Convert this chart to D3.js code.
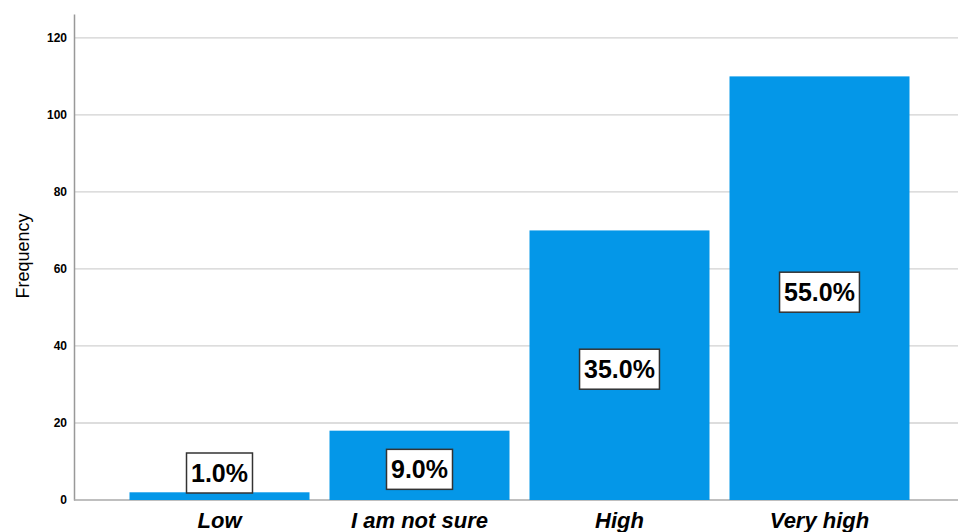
<!DOCTYPE html>
<html><head><meta charset="utf-8">
<script src="https://cdn.jsdelivr.net/npm/d3@7"></script>
<style>body{margin:0;background:#fff}svg{display:block}</style>
</head><body>
<script>
const categories = ["Low", "I am not sure", "High", "Very high"];
const frequencies = [2, 18, 70, 110];
const percentLabels = ["1.0%", "9.0%", "35.0%", "55.0%"];
const yTicks = [0, 20, 40, 60, 80, 100, 120];

const W = 958, H = 532;
const svg = d3.select("body").append("svg").attr("width", W).attr("height", H);
const x0 = 74, yBase = 500;
const y = d3.scaleLinear().domain([0, 126.2]).range([yBase, 14]);
const x = d3.scaleBand().domain(categories).range([119.5, 919.5]).paddingInner(0.1).paddingOuter(0.05);
const FONT = "Liberation Sans, Arial, sans-serif";

// gridlines
svg.append("g").selectAll("line").data(yTicks.filter(d => d > 0)).join("line")
  .attr("x1", x0).attr("x2", W).attr("y1", d => y(d)).attr("y2", d => y(d))
  .attr("stroke", "#d2d2d2").attr("stroke-width", 1.3);

// y axis
const yAxis = d3.axisLeft(y).tickValues(yTicks).tickSize(0).tickPadding(7);
const gy = svg.append("g").attr("transform", `translate(${x0},0)`).call(yAxis);
gy.select(".domain").attr("stroke", "#999").attr("stroke-width", 1.5);
gy.selectAll("text").attr("font-family", FONT)
  .attr("font-weight", "bold").attr("font-size", 12).attr("fill", "#000");

// baseline
svg.append("line").attr("x1", x0).attr("x2", W).attr("y1", yBase).attr("y2", yBase)
  .attr("stroke", "#aaa").attr("stroke-width", 1.5);

// bars
svg.append("g").selectAll("rect").data(frequencies).join("rect")
  .attr("x", (d, i) => x(categories[i])).attr("width", x.bandwidth())
  .attr("y", d => y(d)).attr("height", d => yBase - y(d))
  .attr("fill", "#0497e8");

// percentage labels
const lg = svg.append("g").selectAll("g").data(frequencies).join("g")
  .attr("transform", (d, i) => {
    const cx = x(categories[i]) + x.bandwidth() / 2;
    const cy = Math.min((y(d) + yBase) / 2 + 4, 473);
    return `translate(${cx},${cy})`;
  });
const boxes = lg.append("rect").attr("y", -20).attr("height", 40)
  .attr("fill", "#fff").attr("stroke", "#333").attr("stroke-width", 1.5);
const texts = lg.append("text").text((d, i) => percentLabels[i])
  .attr("text-anchor", "middle").attr("dy", "0.36em")
  .attr("font-family", FONT)
  .attr("font-weight", "bold").attr("font-size", 25).attr("fill", "#000");
texts.each(function(d, i) {
  const w = this.getComputedTextLength() + 9;
  d3.select(boxes.nodes()[i]).attr("x", -w / 2).attr("width", w);
});

// x category labels
svg.append("g").selectAll("text").data(categories).join("text")
  .attr("x", d => x(d) + x.bandwidth() / 2).attr("y", 528)
  .attr("text-anchor", "middle").text(d => d)
  .attr("font-family", FONT)
  .attr("font-weight", "bold").attr("font-style", "italic").attr("font-size", 22).attr("fill", "#000");

// y title
svg.append("text").attr("transform", "translate(29,256) rotate(-90)")
  .attr("text-anchor", "middle").text("Frequency")
  .attr("font-family", FONT)
  .attr("font-size", 18).attr("fill", "#000");
</script>
</body></html>
